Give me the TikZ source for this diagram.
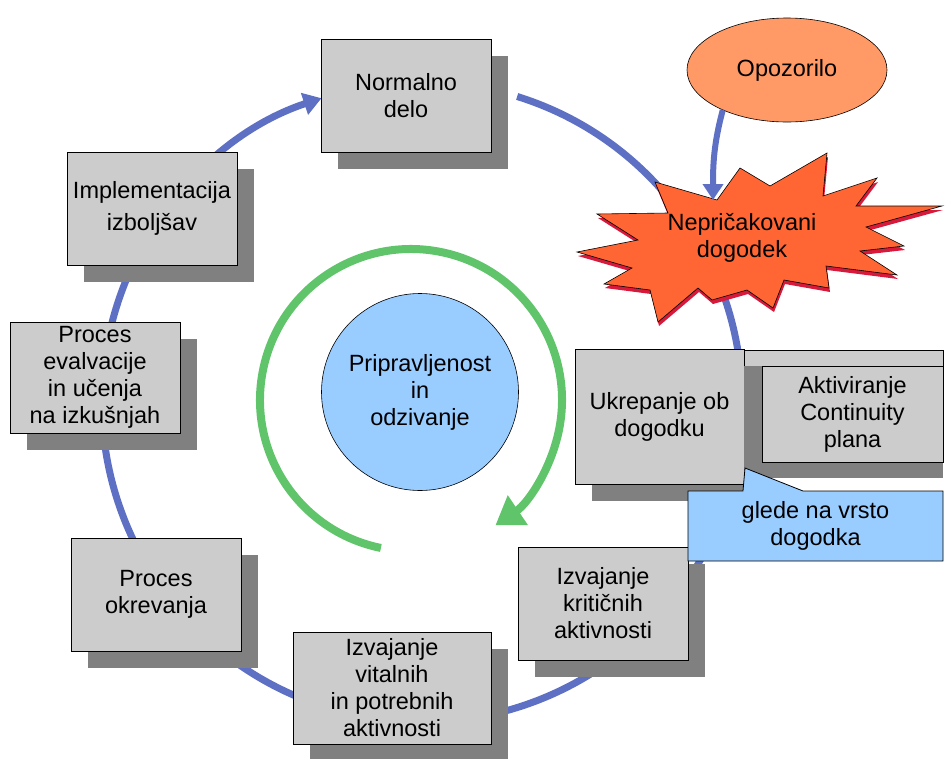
\documentclass[tikz,border=0pt]{standalone}
\usepackage{fontspec}
\setmainfont{Liberation Sans}
\usetikzlibrary{arrows.meta,shapes.geometric,shapes.callouts,shadows}

\definecolor{boxgray}{RGB}{204,204,204}
\definecolor{shadegray}{RGB}{128,128,128}
\definecolor{ringblue}{RGB}{94,112,196}
\definecolor{cyclegreen}{RGB}{96,196,106}
\definecolor{skyblue}{RGB}{153,204,255}
\definecolor{warnorange}{RGB}{255,153,102}
\definecolor{burstorange}{RGB}{255,102,51}
\definecolor{burstred}{RGB}{215,25,60}

\begin{document}
\begin{tikzpicture}[x=1pt,y=-1pt,
    every node/.style={font=\fontsize{23.5}{27}\selectfont, align=center, text=black},
    stage/.style={draw=black, line width=0.8pt, fill=boxgray, inner sep=0pt,
      minimum width=170pt, minimum height=113pt},
    shaded/.style={stage, drop shadow={shadow xshift=17pt, shadow yshift=-17pt,
      fill=shadegray, opacity=1}},
    ringline/.style={ringblue, line width=7pt},
    cyclearrow/.style={cyclegreen, line width=8pt}]
   \useasboundingbox (0,0) rectangle (948,758);
   % outer cycle
   \draw[ringline, -{Triangle[width=22pt,length=18pt]}]
      (422,402) ++(-72.7:320) arc[start angle=-72.7, end angle=251.7, radius=320];
   % inner cycle
   \draw[cyclearrow, -{Triangle[width=34pt,length=27pt]}]
      (411,400) ++(101.5:151) arc[start angle=101.5, end angle=416, radius=151];
   \node[circle, draw=black, line width=0.6pt, fill=skyblue, minimum size=197pt, inner sep=0pt]
      (core) at (420,392) {Pripravljenost\\in\\odzivanje};

   % stages
   \node[shaded] (normal) at (406,95.5) {Normalno\\delo};
   \node[shaded] (improve) at (152,208.5) {Implementacija\\[5pt]izboljšav};
   \node[shaded, minimum height=111pt] (learn) at (95,377.5) {Proces\\evalvacije\\in učenja\\na izkušnjah};
   \node[shaded] (recover) at (156,594.5) {Proces\\okrevanja};
   \node[shaded, minimum width=198pt, minimum height=112pt] (vital) at (392,688) {Izvajanje\\vitalnih\\in potrebnih\\aktivnosti};
   \node[shaded] (critical) at (603,603.5) {Izvajanje\\kritičnih\\aktivnosti};
   \node[shaded, minimum width=169pt, minimum height=135pt] (respond) at (659.5,416.5) {Ukrepanje ob\\dogodku};

   % continuity plan
   \filldraw[fill=boxgray, line width=0.8pt] (744,350) rectangle (943,462);
   \fill[shadegray] (744,366) rectangle (943,478);
   \node[stage, minimum width=181pt, minimum height=96pt] (plan) at (852.5,414) {Aktiviranje\\Continuity\\plana};

   \coordinate (tip) at (745,468);
   \node[rectangle callout, draw=black, line width=0.8pt, fill=skyblue, inner sep=0pt,
      minimum width=255pt, minimum height=70pt,
      callout absolute pointer={(tip)}, callout pointer width=60pt]
      (kind) at (815.5,526) {glede na vrsto\\dogodka};

   % unexpected event
   \filldraw[fill=burstorange, line width=0.6pt,
      preaction={fill=burstred, transform canvas={xshift=1pt, yshift=-4pt}}]
      (577,252) -- (638,240) -- (597,214) -- (668,213) -- (655,182) -- (717,200)
      -- (740,168) -- (770,186) -- (827,153) -- (823,196) -- (877,178) -- (856,206)
      -- (942,206) -- (866,227) -- (904,246) -- (860,251) -- (897,275) -- (826,266)
      -- (829,288) -- (784,280) -- (773,308) -- (747,290) -- (712,300) -- (698,288)
      -- (658,322) -- (650,290) -- (604,284) -- (632,268) -- cycle;
   \node (burst) at (742,238) {Nepričakovani\\dogodek};

   \node[ellipse, draw=black, line width=0.6pt, fill=warnorange, inner sep=0pt,
      minimum width=200pt, minimum height=104pt] (alarm) at (787,70) {Opozorilo};
   \coordinate (hit) at (713,200);
   \draw[ringblue, line width=6pt, -{Triangle[width=20pt,length=16pt]}]
      (alarm.212) to[out=-105,in=90] (hit);
\end{tikzpicture}
\end{document}
